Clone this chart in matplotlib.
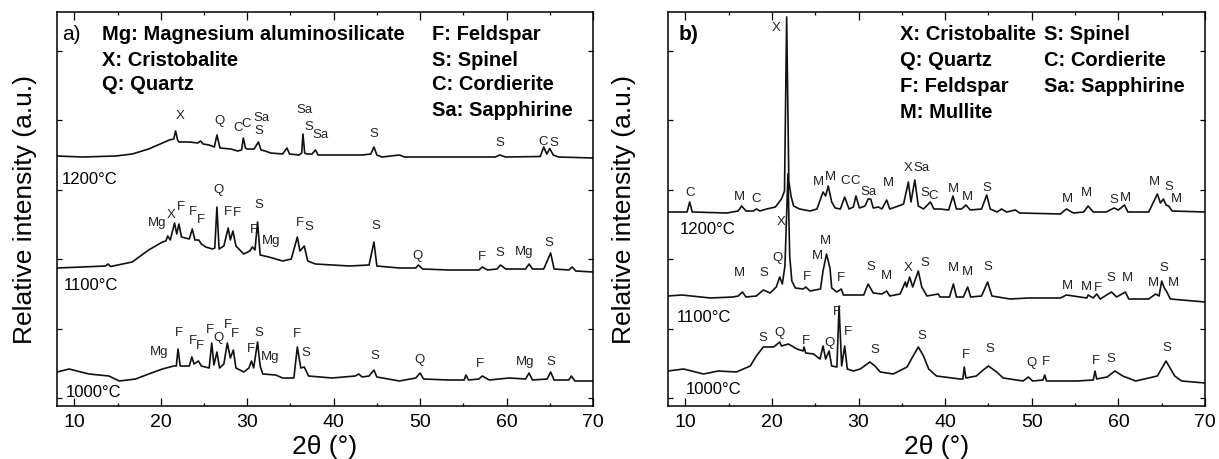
import matplotlib
matplotlib.use('Agg')
import matplotlib.pyplot as plt
from matplotlib.ticker import MultipleLocator

plt.rcParams['font.family'] = ['Liberation Sans', 'DejaVu Sans']

# ---- XRD traces (2theta, offset intensity in a.u.) ----
# panel a
a1200 = [(8.0, 250), (10.9, 249), (14.8, 250), (16.7, 252), (18.6, 257), (20.2, 263), (21.0, 266),
         (21.5, 267), (21.72, 275), (21.95, 266), (22.1, 264), (23.3, 264), (24.3, 263), (24.6, 265),
         (24.9, 262), (25.6, 261), (26.2, 259), (26.5, 271), (26.85, 258), (28.1, 257), (28.9, 255),
         (29.35, 256), (29.55, 268), (29.8, 258), (30.0, 257), (30.8, 257), (31.3, 264), (31.6, 256),
         (32.1, 255), (32.7, 253), (34.1, 252), (34.6, 258), (34.9, 252), (36.0, 251), (36.3, 253),
         (36.45, 272), (36.65, 253), (36.9, 252), (37.5, 252), (37.9, 256), (38.2, 251), (40.0, 251),
         (43.3, 251), (44.3, 252), (44.66, 259), (45.0, 251), (45.6, 249), (47.6, 251), (48.2, 249),
         (53.3, 249), (58.7, 249), (59.2, 251), (59.9, 249), (63.9, 249.5), (64.3, 259), (64.65, 252),
         (65.0, 257.5), (65.4, 251), (66.0, 249), (70.0, 248)]
a1100 = [(8.0, 138), (10.9, 139), (13.6, 140), (13.9, 142), (14.2, 139.5), (16.7, 144), (18.6, 156),
         (19.2, 159), (20.2, 164), (20.6, 165), (20.8, 170), (21.1, 166), (21.6, 183), (21.85, 172),
         (22.1, 182), (22.4, 169), (23.3, 167), (23.65, 177), (23.95, 166), (24.4, 166), (24.7, 162),
         (25.2, 159), (26.0, 157), (26.25, 158), (26.5, 199), (26.75, 157), (27.3, 160), (27.8, 178),
         (28.05, 166), (28.35, 175), (28.7, 160), (29.6, 152), (30.3, 155), (30.6, 159), (30.9, 156),
         (31.2, 184), (31.5, 151), (32.5, 149), (34.1, 145), (35.1, 147), (35.8, 169), (36.1, 155),
         (36.6, 160), (37.0, 145), (37.9, 142), (41.8, 140), (44.1, 141), (44.66, 164), (45.0, 140),
         (47.6, 138), (49.5, 138), (49.8, 141), (50.3, 137), (53.3, 136), (56.8, 136), (57.2, 139),
         (57.8, 136), (58.9, 137), (59.3, 141), (59.9, 137), (62.2, 137), (62.6, 142), (63.0, 137),
         (64.3, 137), (65.1, 153), (65.5, 137), (67.2, 136), (67.6, 139), (68.0, 135), (70.0, 134)]
a1000 = [(8.0, 34), (9.4, 37), (11.7, 32), (14.0, 30), (15.2, 25), (17.1, 27), (18.6, 32), (20.2, 37),
         (21.5, 40), (21.8, 40), (22.0, 57), (22.25, 40), (23.3, 40), (23.6, 49), (23.85, 42),
         (24.35, 45), (24.7, 40), (25.6, 38), (25.9, 63), (26.15, 41), (26.5, 54), (26.8, 38),
         (27.3, 42), (27.7, 63), (28.05, 48), (28.4, 56), (28.7, 38), (29.6, 34), (30.2, 38),
         (30.5, 45), (30.75, 38), (31.2, 64), (31.5, 40), (31.8, 32), (33.3, 31), (34.1, 28),
         (35.4, 28), (35.8, 59), (36.2, 38), (36.6, 39), (37.1, 30), (39.8, 28), (42.5, 30),
         (42.9, 32), (43.3, 29), (44.1, 30), (44.66, 36), (45.0, 29), (47.6, 25), (49.5, 28),
         (50.0, 33), (50.4, 27), (53.3, 26), (55.1, 26), (55.3, 31), (55.6, 26), (56.8, 27),
         (57.2, 30), (58.0, 26), (60.3, 28), (62.2, 27), (62.6, 33), (63.0, 26), (64.7, 27),
         (65.1, 34), (65.5, 26), (67.2, 26), (67.5, 30), (67.9, 25), (70.0, 25)]

# panel b
b1200 = [(8.0, 194), (10.2, 194), (10.5, 204), (10.8, 194), (14.8, 193), (16.1, 195), (16.5, 200),
         (17.0, 195), (17.85, 195), (18.2, 197), (18.6, 195), (19.4, 197), (20.4, 199), (21.1, 207),
         (21.45, 215), (21.7, 389), (21.95, 225), (22.2, 210), (22.5, 200), (23.2, 197), (24.4, 195),
         (25.2, 197), (25.9, 214), (26.2, 210), (26.5, 220), (26.9, 204), (27.3, 198), (27.9, 197),
         (28.4, 209), (28.9, 197), (29.4, 199), (29.7, 210), (30.1, 198), (30.75, 200), (31.1, 207),
         (31.4, 207), (31.7, 198), (32.3, 199), (32.7, 197), (33.25, 206), (33.6, 197), (34.6, 200),
         (35.2, 202), (35.75, 224), (36.05, 204), (36.5, 226), (36.9, 200), (37.5, 197), (38.3, 204),
         (38.7, 197), (39.4, 197), (40.4, 196), (40.9, 210), (41.3, 197), (41.9, 197), (42.4, 201),
         (42.9, 196), (44.2, 197), (44.8, 211), (45.2, 197), (46.0, 194), (46.5, 197), (47.1, 194),
         (48.1, 196), (48.6, 193), (53.3, 192), (54.0, 197), (54.8, 193), (56.0, 194), (56.5, 200),
         (57.1, 194), (58.6, 194), (59.5, 198), (60.0, 196), (60.7, 201), (61.1, 194), (63.5, 194),
         (64.5, 212), (64.85, 203), (65.2, 207), (65.5, 201), (65.8, 200), (66.2, 195), (70.0, 194)]
b1100 = [(8.0, 110), (9.6, 111), (12.9, 108), (15.5, 109), (16.1, 110), (16.6, 114), (17.0, 109),
         (18.2, 110), (19.0, 116), (19.8, 113), (20.5, 119), (20.9, 129), (21.2, 122), (21.5, 140),
         (21.85, 232), (22.05, 150), (22.3, 125), (22.7, 118), (23.6, 117), (23.9, 119), (24.4, 115),
         (25.6, 117), (25.9, 135), (26.3, 152), (26.7, 138), (26.9, 118), (27.5, 114), (28.0, 117),
         (28.25, 111), (30.6, 111), (31.1, 122), (31.7, 113), (32.7, 112), (33.25, 115), (33.6, 110),
         (34.8, 112), (35.4, 124), (35.55, 119), (35.9, 129), (36.25, 119), (36.9, 135), (37.3, 119),
         (37.9, 110), (39.2, 112), (39.4, 109), (40.5, 109), (40.95, 122), (41.3, 109), (42.1, 109),
         (42.6, 119), (42.95, 109), (44.2, 110), (44.9, 124), (45.4, 110), (47.5, 107), (49.6, 108),
         (53.3, 108), (54.0, 111), (56.35, 108), (56.5, 111), (57.1, 108), (57.5, 112), (57.9, 107),
         (59.2, 114), (59.8, 109), (60.8, 114), (61.2, 107), (63.5, 107), (64.3, 112), (64.7, 110),
         (65.0, 125), (65.3, 118), (65.6, 114), (66.0, 107), (70.0, 104)]
b1000 = [(8.0, 35), (9.8, 37), (12.1, 32), (13.8, 35), (15.9, 34), (17.5, 40), (18.2, 50), (19.0, 59),
         (20.2, 59), (20.9, 64), (21.1, 60), (21.9, 62), (22.9, 57), (23.6, 55), (23.7, 59), (23.9, 53),
         (24.8, 52), (25.55, 47), (25.9, 60), (26.2, 47), (26.6, 55), (26.9, 40), (27.5, 39),
         (27.75, 100), (28.05, 40), (28.4, 60), (28.7, 37), (29.4, 35), (30.2, 37), (31.3, 44),
         (31.9, 40), (32.5, 34), (34.0, 32), (35.6, 39), (36.3, 50), (36.9, 59), (37.5, 50), (38.1, 37),
         (39.0, 30), (41.7, 27), (42.05, 27), (42.2, 39), (42.4, 28), (43.6, 30), (44.4, 36), (45.0, 40),
         (45.95, 34), (46.7, 28), (49.0, 25), (49.6, 29), (50.1, 25), (51.3, 26), (51.5, 31), (51.7, 25),
         (55.2, 25), (57.1, 26), (57.3, 35), (57.5, 27), (58.7, 29), (59.6, 35), (60.5, 30), (62.0, 25),
         (64.5, 30), (65.5, 45), (66.5, 30), (67.3, 25), (70.0, 23)]

# ---- phase labels above peaks: (text, 2theta, height) ----
a1200_labels = [('X', 22.2, 291), ('Q', 26.8, 286), ('C', 28.9, 279), ('C', 29.9, 283), ('Sa', 31.6, 289),
                ('S', 31.3, 276), ('Sa', 36.6, 297), ('S', 37.1, 280), ('Sa', 38.5, 272), ('S', 44.7, 273),
                ('S', 59.2, 264), ('C', 64.2, 265), ('S', 65.5, 264)]
a1100_labels = [('Mg', 19.6, 184), ('X', 21.2, 192), ('F', 22.3, 200), ('F', 23.7, 195), ('F', 24.7, 187),
                ('Q', 26.65, 217), ('F', 27.8, 195), ('F', 28.8, 194), ('S', 31.4, 202), ('F', 30.8, 177),
                ('Mg', 32.8, 166), ('F', 36.1, 184), ('S', 37.1, 180), ('S', 44.85, 181), ('Q', 49.7, 151),
                ('F', 57.1, 150), ('S', 59.2, 154), ('Mg', 62.0, 155), ('S', 64.9, 164)]
a1000_labels = [('Mg', 19.8, 55), ('F', 22.1, 74), ('F', 23.7, 66), ('F', 24.5, 61), ('F', 25.65, 77),
                ('Q', 26.7, 69), ('F', 27.8, 82), ('F', 28.6, 73), ('S', 31.4, 74), ('F', 30.4, 58),
                ('Mg', 32.7, 50), ('F', 35.8, 73), ('S', 36.8, 54), ('S', 44.8, 51), ('Q', 49.9, 47),
                ('F', 56.9, 43), ('Mg', 62.2, 45), ('S', 65.1, 45)]
b1200_labels = [('C', 10.5, 214), ('M', 16.3, 210), ('C', 18.2, 208), ('X', 20.5, 379), ('M', 25.4, 225),
                ('M', 26.7, 230), ('C', 28.4, 226), ('C', 29.6, 226), ('Sa', 31.1, 215), ('M', 33.4, 224),
                ('X', 35.75, 239), ('Sa', 37.3, 239), ('S', 37.6, 214), ('C', 38.6, 211), ('M', 40.9, 218),
                ('M', 42.6, 210), ('S', 44.8, 219), ('M', 54.1, 208), ('M', 56.3, 214), ('S', 59.5, 207),
                ('M', 60.8, 209), ('M', 64.2, 225), ('S', 65.8, 220), ('M', 66.7, 208)]
b1100_labels = [('X', 21.1, 185), ('M', 16.3, 134), ('S', 19.1, 134), ('Q', 20.6, 149), ('M', 25.2, 151),
                ('M', 26.2, 166), ('F', 24.0, 130), ('F', 28.0, 129), ('S', 31.4, 140), ('M', 33.25, 131),
                ('X', 35.75, 139), ('S', 37.6, 144), ('M', 40.9, 139), ('M', 42.6, 135), ('S', 44.9, 140),
                ('M', 54.1, 121), ('M', 56.3, 120), ('F', 57.6, 119), ('S', 59.1, 129), ('M', 61.0, 129),
                ('M', 64.1, 124), ('S', 65.3, 139), ('M', 66.3, 124)]
b1000_labels = [('S', 19.0, 69), ('Q', 20.9, 74), ('F', 23.9, 66), ('Q', 26.6, 64), ('F', 27.5, 95),
                ('F', 28.8, 75), ('S', 31.9, 57), ('S', 37.3, 71), ('F', 42.4, 52), ('S', 45.2, 58),
                ('Q', 50.0, 44), ('F', 51.6, 45), ('F', 57.4, 46), ('S', 59.1, 48), ('S', 65.6, 59)]

temps = ['1200°C', '1100°C', '1000°C']

legend_a_left = ['Mg: Magnesium aluminosilicate', 'X: Cristobalite', 'Q: Quartz']
legend_a_right = ['F: Feldspar', 'S: Spinel', 'C: Cordierite', 'Sa: Sapphirine']
legend_b_left = ['X: Cristobalite', 'Q: Quartz', 'F: Feldspar', 'M: Mullite']
legend_b_right = ['S: Spinel', 'C: Cordierite', 'Sa: Sapphirine']


def setup_axes(ax):
    ax.set_xlim(8, 70)
    ax.set_ylim(0, 394)
    ax.xaxis.set_major_locator(MultipleLocator(10))
    ax.xaxis.set_minor_locator(MultipleLocator(5))
    ax.set_yticks([8 + 69.4 * k for k in range(6)])
    ax.tick_params(axis='x', which='both', direction='in', top=True, labelsize=14, pad=5)
    ax.tick_params(axis='x', which='major', length=5.5, width=0.9)
    ax.tick_params(axis='x', which='minor', length=2.5, width=0.9)
    ax.tick_params(axis='y', direction='in', right=True, left=True, labelleft=False,
                   length=3.5, width=0.9)
    for sp in ax.spines.values():
        sp.set_linewidth(1.1)
    ax.set_xlabel('2θ (°)', fontsize=19, va='center')
    ax.xaxis.set_label_coords(0.5, -0.102)
    ax.set_ylabel('Relative intensity (a.u.)', fontsize=19, va='center')


def draw_trace(ax, pts, labels):
    x, y = zip(*pts)
    ax.plot(x, y, color='#111111', lw=1.2)
    for txt, lx, ly in labels:
        ax.text(lx, ly, txt, fontsize=9.5, ha='center', va='center', color='#222222')


def yfrac(py):
    return (407 - py) / 394


fig = plt.figure(figsize=(12.19, 4.6), dpi=100)
ax_a = fig.add_axes([57 / 1219, 53 / 460, 536 / 1219, 394 / 460])
ax_b = fig.add_axes([668 / 1219, 53 / 460, 537 / 1219, 394 / 460])

# panel a
setup_axes(ax_a)
ax_a.yaxis.set_label_coords(-0.06, 0.5)
for pts, labs in [(a1200, a1200_labels), (a1100, a1100_labels), (a1000, a1000_labels)]:
    draw_trace(ax_a, pts, labs)
for t, tx, ty in zip(temps, [8.6, 8.8, 9.0], [227, 122, 14]):
    ax_a.text(tx, ty, t, fontsize=12, ha='left', va='center')
ax_a.text(0.009, yfrac(35), 'a)', transform=ax_a.transAxes, fontsize=15, ha='left', va='center')
for i, t in enumerate(legend_a_left):
    ax_a.text(0.084, yfrac(35 + 25 * i), t, transform=ax_a.transAxes, fontsize=14.5,
              fontweight='bold', ha='left', va='center')
for i, t in enumerate(legend_a_right):
    ax_a.text(0.70, yfrac(35 + 25 * i), t, transform=ax_a.transAxes, fontsize=14.5,
              fontweight='bold', ha='left', va='center')

# panel b
setup_axes(ax_b)
ax_b.yaxis.set_label_coords(-0.082, 0.5)
for pts, labs in [(b1200, b1200_labels), (b1100, b1100_labels), (b1000, b1000_labels)]:
    draw_trace(ax_b, pts, labs)
for t, tx, ty in zip(temps, [9.4, 9.0, 10.0], [177, 90, 17]):
    ax_b.text(tx, ty, t, fontsize=12, ha='left', va='center')
ax_b.text(0.019, yfrac(35), 'b)', transform=ax_b.transAxes, fontsize=15, fontweight='bold',
          ha='left', va='center')
for i, t in enumerate(legend_b_left):
    ax_b.text(0.432, yfrac(35 + 26 * i), t, transform=ax_b.transAxes, fontsize=14.5,
              fontweight='bold', ha='left', va='center')
for i, t in enumerate(legend_b_right):
    ax_b.text(0.70, yfrac(35 + 26 * i), t, transform=ax_b.transAxes, fontsize=14.5,
              fontweight='bold', ha='left', va='center')

fig.savefig('out.png', dpi=100)
